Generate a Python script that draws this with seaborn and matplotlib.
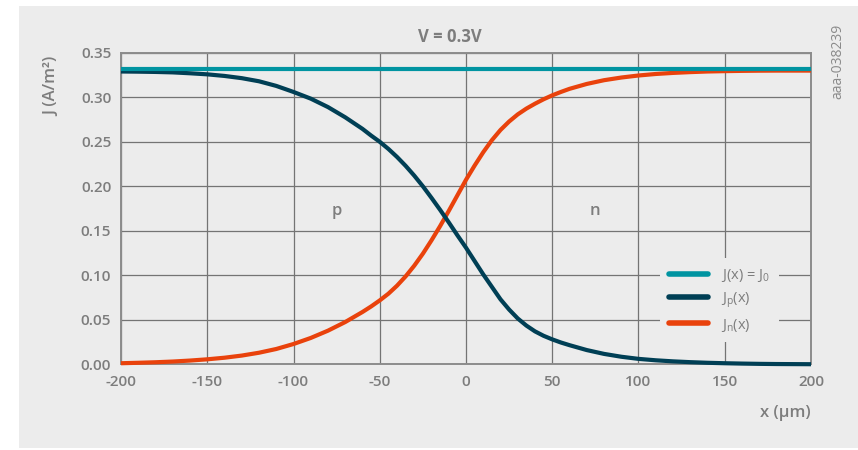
import matplotlib
matplotlib.use("Agg")
import matplotlib.pyplot as plt
from matplotlib.patches import Rectangle
import pandas as pd
import seaborn as sns

# Position across the junction (µm): coarse in the neutral regions, finer near x = 0
x_um = [-200, -190, -180, -170, -160, -150, -140, -130, -120, -110,
        -100, -90, -80, -70, -60,
        -55, -50, -45, -40, -35, -30, -25, -20, -15, -10, -5,
        0, 5, 10, 15, 20, 25, 30, 35, 40, 45, 50, 55,
        60, 70, 80, 90, 100, 110, 120, 130, 140, 150, 160, 170, 180, 190, 200]

# Hole current density Jp(x) (A/m²)
jp = [0.329, 0.3288, 0.3285, 0.328, 0.327, 0.3258, 0.324, 0.3215, 0.318, 0.3128,
      0.306, 0.2985, 0.289, 0.2775, 0.2645,
      0.257, 0.250, 0.242, 0.233, 0.223, 0.212, 0.200, 0.187, 0.1735, 0.1595, 0.145,
      0.131, 0.116, 0.101, 0.087, 0.073, 0.0615, 0.0515, 0.0435, 0.037, 0.032, 0.028, 0.0245,
      0.0215, 0.016, 0.0117, 0.0085, 0.0061, 0.0045, 0.0033, 0.0024, 0.0017, 0.0012,
      0.0008, 0.0005, 0.0003, 0.0002, 0.0001]

# Electron current density Jn(x) (A/m²)
jn = [0.0012, 0.0017, 0.0023, 0.0031, 0.0042, 0.0056, 0.0074, 0.0098, 0.013, 0.0172,
      0.0228, 0.0296, 0.0378, 0.0475, 0.0588,
      0.065, 0.0718, 0.0793, 0.0883, 0.0988, 0.1108, 0.1243, 0.1393, 0.1553, 0.1723, 0.1898,
      0.2073, 0.2233, 0.2383, 0.2518, 0.2633, 0.2728, 0.2808, 0.2873, 0.2928, 0.2978, 0.3022, 0.3060,
      0.3095, 0.315, 0.3192, 0.3222, 0.3245, 0.3262, 0.3274, 0.3283, 0.329, 0.3294,
      0.3297, 0.3299, 0.330, 0.330, 0.330]

# Total current density J0 (constant)
j0 = 0.332

series_names = ["J(x) = J$_0$", "J$_\\mathrm{p}$(x)", "J$_\\mathrm{n}$(x)"]
series_colors = ["#0094a1", "#003f55", "#e9420c"]

x_ticks = [-200, -150, -100, -50, 0, 50, 100, 150, 200]
x_tick_labels = ["-200", "-150", "-100", "-50", "0", "50", "100", "150", "200"]
y_ticks = [0.00, 0.05, 0.10, 0.15, 0.20, 0.25, 0.30, 0.35]
y_tick_labels = ["0.00", "0.05", "0.10", "0.15", "0.20", "0.25", "0.30", "0.35"]

sns.set_theme(style="whitegrid")
plt.rcParams["font.family"] = ["Open Sans", "DejaVu Sans"]
plt.rcParams["mathtext.fontset"] = "custom"
plt.rcParams["mathtext.rm"] = "Open Sans"
plt.rcParams["mathtext.it"] = "Open Sans:italic"
plt.rcParams["mathtext.default"] = "regular"
plt.rcParams["axes.unicode_minus"] = False

panel = "#ececec"
grid_c = "#747474"
text_c = "#7d7d7d"

fig = plt.figure(figsize=(8.58, 4.5), dpi=100, facecolor="white")
# light grey card behind the whole chart
fig.patches.append(Rectangle((19 / 858, 0.004), 1 - 19 / 858, 1 - 6 / 450 - 0.004,
                             transform=fig.transFigure, facecolor=panel,
                             edgecolor="none", zorder=-10))

ax = fig.add_axes([121 / 858, 1 - 364.3 / 450, 690 / 858, 311.5 / 450])
ax.set_facecolor(panel)

n = len(x_um)
df = pd.DataFrame({
    "x": x_um * 3,
    "J": [j0] * n + jp + jn,
    "series": [series_names[0]] * n + [series_names[1]] * n + [series_names[2]] * n,
})

sns.lineplot(data=df, x="x", y="J", hue="series", hue_order=series_names,
             palette=series_colors, linewidth=3.0, ax=ax, legend=False,
             sort=False, estimator=None)

lines = ax.get_lines()
for ln, z in zip(lines, [5, 4, 3]):
    ln.set_zorder(z)
    ln.set_clip_on(False)
    ln.set_solid_capstyle("butt")
    ln.set_solid_joinstyle("round")

ax.set_xlim(-200, 200)
ax.set_ylim(0, 0.35)
ax.set_xticks(x_ticks, labels=x_tick_labels)
ax.set_yticks(y_ticks, labels=y_tick_labels)
ax.grid(True, color=grid_c, linewidth=0.9)
ax.tick_params(axis="both", length=0, colors=text_c, labelsize=11)
ax.tick_params(axis="x", pad=8)
ax.tick_params(axis="y", pad=7)
for lab in ax.get_xticklabels() + ax.get_yticklabels():
    lab.set_fontweight("semibold")
for sp in ax.spines.values():
    sp.set_visible(True)
    sp.set_color("#8c8c8c")
    sp.set_linewidth(1.4)

ax.set_xlabel("x (µm)", fontsize=12, fontweight="semibold", color=text_c, va="center")
ax.xaxis.set_label_coords(0.963, -0.156)
ax.set_ylabel("J (A/m²)", fontsize=12, fontweight="semibold", color=text_c, va="center")
ax.yaxis.set_label_coords(-0.099, 0.893)

ax.text(0.477, 1.051, "V = 0.3V", transform=ax.transAxes, ha="center", va="center",
        fontsize=12, fontweight="bold", color=text_c)
ax.text(-75, 0.172, "p", ha="center", va="center", fontsize=12,
        fontweight="semibold", color=text_c)
ax.text(75, 0.172, "n", ha="center", va="center", fontsize=12,
        fontweight="semibold", color=text_c)

fig.text(838 / 858, 1 - 61 / 450, "aaa-038239", rotation=90, ha="center", va="center",
         fontsize=10, color="#8a8a8a")

leg = ax.legend(handles=lines, labels=series_names, loc="upper left",
                bbox_to_anchor=(0.781, 0.341), frameon=True, facecolor=panel,
                edgecolor="none", framealpha=1.0, fontsize=10.5,
                handlelength=2.7, handletextpad=0.9, labelspacing=0.45,
                borderpad=0.6, borderaxespad=0)
for t in leg.get_texts():
    t.set_color(text_c)
for h in leg.legend_handles:
    h.set_solid_capstyle("round")
    h.set_linewidth(4)
leg.set_zorder(6)

fig.savefig("out.png", dpi=100, facecolor="white")
